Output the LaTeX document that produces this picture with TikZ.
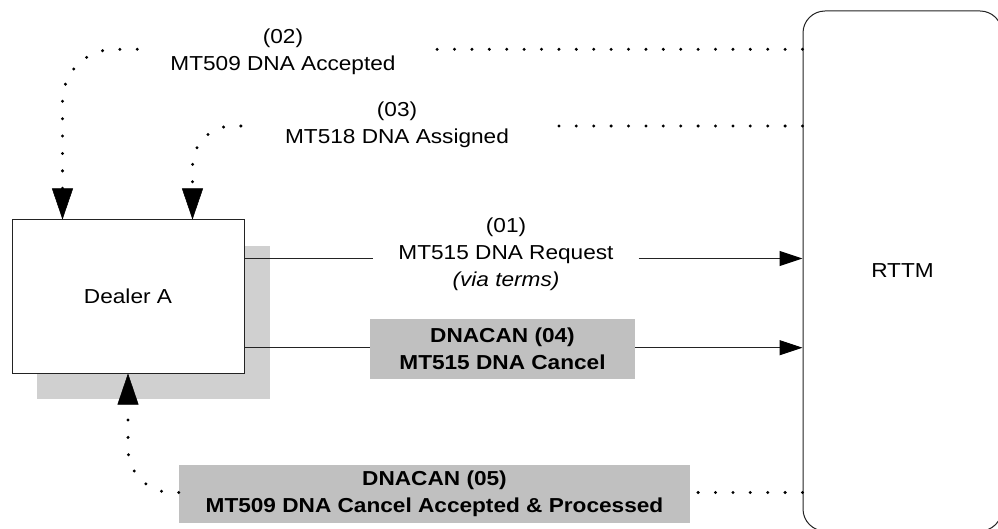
\documentclass[tikz,border=0pt]{standalone}
\usepackage{fontspec}
\setmainfont{Liberation Sans}[FakeStretch=1.12]
\usetikzlibrary{arrows.meta,calc}
\definecolor{boxgray}{RGB}{192,192,192}
\definecolor{shadowgray}{RGB}{208,208,208}
\definecolor{linegray}{RGB}{35,35,35}
\begin{document}
\begin{tikzpicture}[x=1pt,y=-1pt,
  font=\fontsize{20.2}{27}\selectfont,
  solidline/.style={draw=linegray, line width=1pt},
  solidarrow/.style={solidline, -{Triangle[length=23pt,width=15pt,color=black]}},
  dotline/.style={draw=black, line width=3.3pt, line cap=round, dash pattern=on 0pt off 17.4pt},
  dotarrow/.style={dotline, -{Triangle[length=31pt,width=21pt,line width=0.5pt]}},
  lbl/.style={inner ysep=0pt, align=center},
  graybox/.style={fill=boxgray, inner sep=0pt, align=center, font=\fontsize{20.2}{27}\selectfont\bfseries},
  entity/.style={draw=linegray, line width=1pt, fill=white, inner sep=0pt},
]
\useasboundingbox (0,0) rectangle (998,529);
% shadow of Dealer A
\fill[shadowgray] (37,246) rectangle (270,399);
\node[entity, minimum width=232pt, minimum height=153pt] (dealer) at (128,296.5) {Dealer A};
\node[entity, rounded corners=22pt, minimum width=199pt, minimum height=520pt] (rttm) at (902.5,271) {RTTM};

\node[lbl, inner xsep=25pt] (l01) at (506,253.8) {(01)\\MT515 DNA Request\\\textit{(via terms)}};
\node[lbl, inner xsep=33pt] (l02) at (283,51.3) {(02)\\MT509 DNA Accepted};
\node[lbl, inner xsep=44pt] (l03) at (397,124.3) {(03)\\MT518 DNA Assigned};
\node[graybox, minimum width=265pt, minimum height=60pt] (g04) at (502.5,349) {DNACAN (04)\\MT515 DNA Cancel};
\node[graybox, minimum width=511pt, minimum height=58pt] (g05) at (434.5,494) {DNACAN (05)\\MT509 DNA Cancel Accepted \& Processed};

\coordinate (y01) at (0,258.5);
\coordinate (y04) at (0,347.7);
\coordinate (y02) at (0,49.3);
\coordinate (y03) at (0,126);
\coordinate (y05) at (0,492.5);

\draw[solidline] (dealer.east |- y01) -- (l01.west |- y01);
\draw[solidarrow] (l01.east |- y01) -- (rttm.west |- y01);
\draw[solidline] (dealer.east |- y04) -- (g04.west |- y04);
\draw[solidarrow] (g04.east |- y04) -- (rttm.west |- y04);

\draw[dotline] (rttm.west |- y02) -- (l02.east |- y02);
\draw[dotarrow, rounded corners=52pt] (l02.west |- y02) -| ([xshift=51pt]dealer.north west);
\draw[dotline] (rttm.west |- y03) -- (l03.east |- y03);
\draw[dotarrow, rounded corners=40pt] (l03.west |- y03) -| ([xshift=181pt]dealer.north west);
\draw[dotline] (rttm.west |- y05) -- (g05.east |- y05);
\draw[dotarrow, rounded corners=44pt] (g05.west |- y05) -| (dealer.south);
\end{tikzpicture}
\end{document}
